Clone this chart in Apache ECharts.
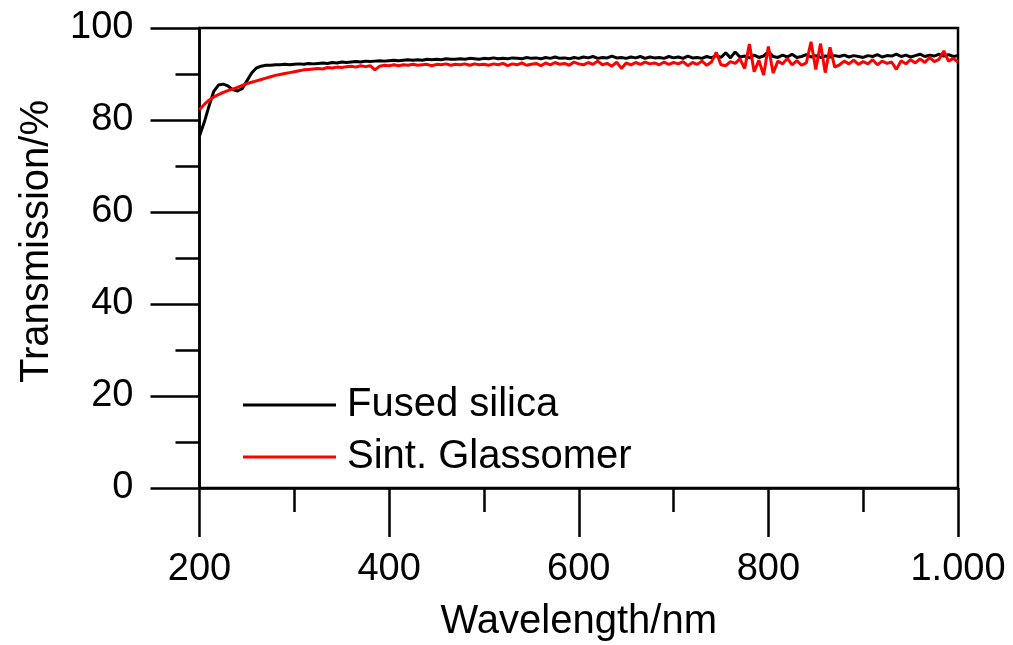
<!DOCTYPE html>
<html>
<head>
<meta charset="utf-8">
<script src="https://cdn.jsdelivr.net/npm/echarts@6/dist/echarts.min.js"></script>
<style>html,body{margin:0;padding:0;background:#fff;}#c{width:1013px;height:645px;}</style>
</head>
<body>
<div id="c"></div>
<script>
const wavelengths = [200,205,210,215,220,225,230,235,240,245,250,255,260,265,270,275,280,285,290,295,
300,305,310,315,320,325,330,335,340,345,350,355,360,365,370,375,380,385,390,395,
400,405,410,415,420,425,430,435,440,445,450,455,460,465,470,475,480,485,490,495,
500,505,510,515,520,525,530,535,540,545,550,555,560,565,570,575,580,585,590,595,
600,605,610,615,620,625,630,635,640,645,650,655,660,665,670,675,680,685,690,695,
700,705,710,715,720,725,730,735,740,745,750,755,760,765,770,775,780,785,790,795,
800,805,810,815,820,825,830,835,840,845,850,855,860,865,870,875,880,885,890,895,
900,905,910,915,920,925,930,935,940,945,950,955,960,965,970,975,980,985,990,995,1000];

const fusedSilica = [76.5,79.5,83.0,86.2,87.6,87.8,87.4,86.6,86.3,86.8,88.5,90.2,91.3,91.7,91.9,91.9,92.0,92.0,92.1,92.0,
92.1,92.2,92.1,92.3,92.2,92.3,92.4,92.3,92.5,92.4,92.6,92.5,92.6,92.7,92.6,92.8,92.7,92.8,92.9,92.8,
92.9,93.0,92.9,93.0,93.1,93.0,93.1,93.0,93.2,93.1,93.2,93.1,93.3,93.2,93.2,93.3,93.2,93.4,93.3,93.2,
93.4,93.3,93.5,93.3,93.4,93.3,93.5,93.4,93.3,93.6,93.4,93.5,93.3,93.6,93.4,93.7,93.4,93.5,93.3,93.6,
93.4,93.7,93.5,93.8,93.4,93.6,93.5,93.9,93.5,93.6,93.4,93.7,93.5,93.8,93.4,93.7,93.5,93.6,93.4,93.8,
93.5,93.7,93.4,93.9,93.5,93.6,93.4,93.8,93.5,94.0,93.6,94.6,93.5,94.8,93.7,93.9,93.5,94.1,93.6,93.9,
94.9,93.8,93.6,94.1,93.7,94.3,93.6,93.8,94.2,93.7,94.0,93.6,93.9,93.7,94.0,93.8,94.1,93.7,94.0,93.8,
93.6,94.0,93.8,94.2,93.7,94.0,93.9,94.3,93.8,94.1,93.7,94.0,94.3,93.8,94.1,93.9,94.3,93.9,94.2,93.8,94.0];

const sintGlassomer = [82.2,83.4,84.3,85.0,85.5,86.0,86.4,86.7,87.1,87.5,87.9,88.2,88.5,88.8,89.1,89.4,89.7,89.9,90.1,90.3,
90.5,90.7,90.9,91.0,91.1,91.2,91.1,91.4,91.3,91.5,91.4,91.6,91.7,91.5,91.8,91.6,91.8,90.9,91.7,91.9,
91.8,92.0,91.8,92.0,91.9,92.1,91.9,92.0,92.1,91.8,92.1,92.0,92.2,91.9,92.1,92.0,92.2,91.9,92.2,92.0,
92.1,91.9,92.2,92.0,92.3,91.8,92.2,92.0,92.4,91.9,92.1,92.3,91.8,92.4,92.0,92.5,92.1,92.3,91.9,92.6,
92.2,92.0,92.5,92.1,92.8,92.0,92.3,91.7,92.6,91.2,92.4,92.0,92.5,92.1,92.6,92.2,92.4,92.0,92.6,92.1,
92.5,92.2,92.7,91.8,92.5,92.1,92.8,91.9,92.6,94.7,92.0,91.8,92.7,92.3,93.3,91.2,96.5,90.5,93.0,89.8,
96.0,90.2,92.8,92.2,93.4,92.0,92.9,91.9,92.4,97.0,91.0,96.6,90.3,95.8,91.5,92.0,92.8,92.2,93.0,92.1,
92.7,92.2,93.1,92.0,92.8,92.3,92.6,91.0,92.9,92.2,93.1,92.4,93.3,92.5,93.6,92.7,93.2,95.0,92.8,93.4,92.6];

const seriesNames = ['Fused silica', 'Sint. Glassomer'];
const seriesColors = ['#000000', '#ff0000'];
const xTicks = [200, 400, 600, 800, 1000];
const yTicks = [0, 20, 40, 60, 80, 100];

const FONT = "'Liberation Sans', Arial, sans-serif";
const pairs = vals => wavelengths.map((w, i) => [w, vals[i]]);

const chart = echarts.init(document.getElementById('c'), null, {renderer: 'canvas'});
chart.setOption({
  animation: false,
  backgroundColor: '#ffffff',
  grid: {left: 199.5, right: 55, top: 28, bottom: 157, show: true, borderColor: '#000', borderWidth: 2.5,
    backgroundColor: 'transparent', containLabel: false, outerBoundsMode: 'none'},
  legend: {
    orient: 'vertical', left: 238, top: 380, itemWidth: 93, itemHeight: 3, itemGap: 12,
    icon: 'rect',
    data: seriesNames,
    textStyle: {fontFamily: FONT, fontSize: 40, color: '#000', padding: [0, 0, 0, 6]}
  },
  xAxis: {
    type: 'value', min: xTicks[0], max: xTicks[xTicks.length - 1], interval: 200,
    name: 'Wavelength/nm', nameLocation: 'middle', nameGap: 114,
    nameTextStyle: {fontFamily: FONT, fontSize: 40, color: '#000'},
    axisLine: {show: true, lineStyle: {color: '#000', width: 2.5}},
    axisTick: {show: true, length: 49, lineStyle: {color: '#000', width: 2.5}},
    minorTick: {show: true, splitNumber: 2, length: 24, lineStyle: {color: '#000', width: 2.5}},
    splitLine: {show: false},
    axisLabel: {fontFamily: FONT, fontSize: 38, color: '#000', margin: 63,
      formatter: v => v >= 1000 ? Math.floor(v / 1000) + '.' + String(v % 1000).padStart(3, '0') : String(v)}
  },
  yAxis: {
    type: 'value', min: yTicks[0], max: yTicks[yTicks.length - 1], interval: 20,
    axisLine: {show: true, lineStyle: {color: '#000', width: 2.5}},
    axisTick: {show: true, length: 49, lineStyle: {color: '#000', width: 2.5}},
    minorTick: {show: true, splitNumber: 2, length: 24, lineStyle: {color: '#000', width: 2.5}},
    splitLine: {show: false},
    axisLabel: {fontFamily: FONT, fontSize: 38, color: '#000', margin: 66}
  },
  graphic: [{
    type: 'text', left: 17, top: 100, rotation: Math.PI / 2,
    style: {text: 'Transmission/%', font: "40px 'Liberation Sans', Arial, sans-serif", fill: '#000'}
  }],
  series: seriesNames.map((n, i) => ({
    name: n, type: 'line', showSymbol: false, symbol: 'none',
    data: pairs(i === 0 ? fusedSilica : sintGlassomer),
    lineStyle: {color: seriesColors[i], width: 3},
    itemStyle: {color: seriesColors[i]},
    z: 2 + i
  }))
});
</script>
</body>
</html>
